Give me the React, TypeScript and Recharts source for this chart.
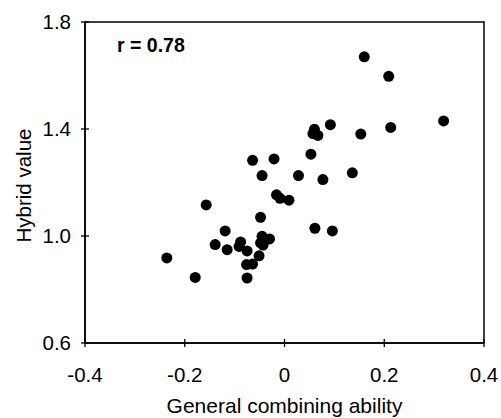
import { ScatterChart, Scatter, XAxis, YAxis, ReferenceArea } from 'recharts'

const gca = [
  0.16, 0.209, 0.319, 0.213, 0.092, 0.06, 0.057, 0.067, 0.153, 0.053,
  0.136, 0.077, 0.028, -0.021, -0.064, -0.045, -0.016, -0.009, 0.009, -0.157,
  -0.048, 0.061, 0.096, -0.119, -0.045, -0.03, -0.048, -0.088, -0.139, -0.091,
  -0.115, -0.075, -0.043, -0.051, -0.076, -0.064, -0.236, -0.179, -0.075,
]
const hybrid = [
  1.67, 1.597, 1.43, 1.406, 1.416, 1.399, 1.383, 1.376, 1.381, 1.306,
  1.236, 1.211, 1.226, 1.288, 1.283, 1.226, 1.154, 1.141, 1.134, 1.116,
  1.07, 1.029, 1.019, 1.019, 0.999, 0.989, 0.974, 0.978, 0.968, 0.961,
  0.949, 0.944, 0.966, 0.926, 0.893, 0.895, 0.918, 0.845, 0.843,
]
const xTicks = [-0.4, -0.2, 0, 0.2, 0.4]
const xTickLabels = ['-0.4', '-0.2', '0', '0.2', '0.4']
const yTicks = [0.6, 1.0, 1.4, 1.8]
const yTickLabels = ['0.6', '1.0', '1.4', '1.8']

const points = gca.map((x, i) => ({ x, y: hybrid[i] }))
const font = '"Liberation Sans", Arial, sans-serif'

function XTick({ x, y, index }: any) {
  return (
    <g>
      <line x1={x} x2={x} y1={y - 4} y2={y + 4} stroke="#000" strokeWidth={1.3} />
      <text x={x} y={y + 39} textAnchor="middle" fontSize={20.5} fontFamily={font} fill="#000">
        {xTickLabels[index]}
      </text>
    </g>
  )
}

function YTick({ x, y, index }: any) {
  return (
    <g>
      <line x1={x - 4} x2={x + 4} y1={y} y2={y} stroke="#000" strokeWidth={1.3} />
      <text x={x - 14} y={y + 7} textAnchor="end" fontSize={20.5} fontFamily={font} fill="#000">
        {yTickLabels[index]}
      </text>
    </g>
  )
}

const Dot = (props: any) => <circle cx={props.cx} cy={props.cy} r={5.5} fill="#000" />

export default function App() {
  return (
    <div style={{ position: 'absolute', left: 0, top: 0, background: '#fff' }}>
      <ScatterChart width={501} height={418} margin={{ top: 22, right: 17, left: 0, bottom: 0 }}>
        <XAxis
          type="number"
          dataKey="x"
          domain={[-0.4, 0.4]}
          ticks={xTicks}
          height={75}
          tickSize={0}
          tickMargin={0}
          tick={<XTick />}
          axisLine={{ stroke: '#000', strokeWidth: 1.5 }}
          label={{ value: 'General combining ability', position: 'insideBottom', offset: 5, fontSize: 21, fontFamily: font, fill: '#000' }}
        />
        <YAxis
          type="number"
          dataKey="y"
          domain={[0.6, 1.8]}
          ticks={yTicks}
          width={85}
          tickSize={0}
          tickMargin={0}
          tick={<YTick />}
          axisLine={{ stroke: '#000', strokeWidth: 1.5 }}
          label={{
            content: ({ viewBox }: any) => (
              <text
                transform={`translate(${viewBox.x + 23},${viewBox.y + viewBox.height / 2 + 3}) rotate(-90)`}
                textAnchor="middle"
                dominantBaseline="central"
                fontSize={20.5}
                fontFamily={font}
                fill="#000"
              >
                Hybrid value
              </text>
            ),
          }}
        />
        <ReferenceArea x1={-0.4} x2={0.4} y1={0.6} y2={1.8} fill="none" stroke="#000" strokeWidth={1.5} />
        <Scatter data={points} shape={<Dot />} isAnimationActive={false} />
        <text x={117} y={52} fontSize={19.5} fontWeight="bold" fontFamily={font} fill="#000">
          r = 0.78
        </text>
      </ScatterChart>
    </div>
  )
}
